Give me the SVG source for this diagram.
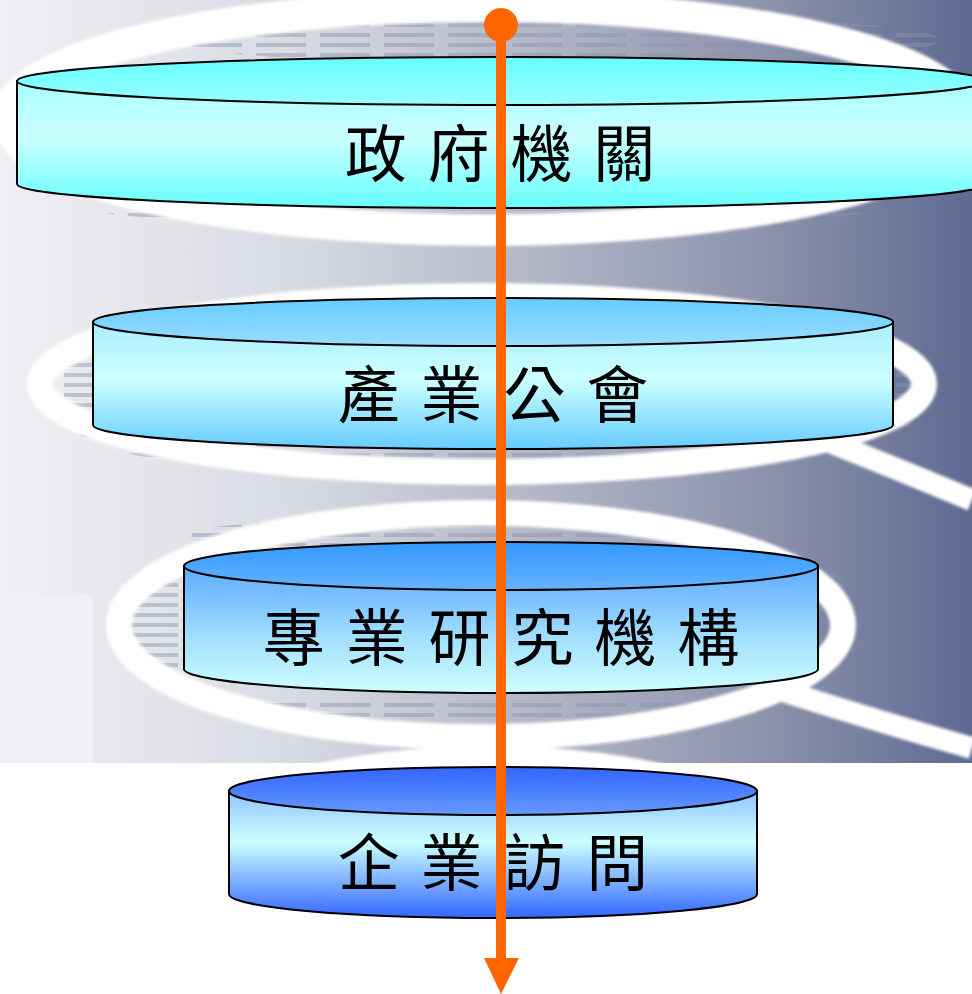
<svg xmlns="http://www.w3.org/2000/svg" width="972" height="994" viewBox="0 0 972 994">
  <style>
    .cyl-edge { stroke: #000000; stroke-width: 2; }
    .label { font-family: "Noto Sans CJK TC", "Noto Sans CJK SC", sans-serif; font-size: 62px; fill: #000000; text-anchor: middle; dominant-baseline: central; word-spacing: 7px; }
    .ring { fill: none; stroke: #FFFFFF; }
  </style>
  <defs>
    <linearGradient id="bg" x1="0" y1="0" x2="1" y2="0">
      <stop offset="0" stop-color="#EEF0F3"/>
      <stop offset="0.3" stop-color="#D8DBE2"/>
      <stop offset="0.55" stop-color="#B2B6C6"/>
      <stop offset="0.8" stop-color="#8A90AA"/>
      <stop offset="1" stop-color="#5E6A92"/>
    </linearGradient>
    <pattern id="stripes" x="0" y="0" width="64" height="10" patternUnits="userSpaceOnUse">
      <rect x="0" y="3" width="50" height="4" fill="#8C93AC"/>
    </pattern>
    <filter id="soft" x="-10%" y="-10%" width="120%" height="120%">
      <feGaussianBlur stdDeviation="1.8"/>
    </filter>
    <linearGradient id="top1" x1="0" y1="0" x2="0" y2="1">
      <stop offset="0" stop-color="#66FFFF"/>
      <stop offset="1" stop-color="#99FFFF"/>
    </linearGradient>
    <linearGradient id="body1" x1="0" y1="0" x2="0" y2="1">
      <stop offset="0" stop-color="#A8FFFF"/>
      <stop offset="0.45" stop-color="#CCFFFF"/>
      <stop offset="1" stop-color="#66FFFF"/>
    </linearGradient>
    <linearGradient id="top2" x1="0" y1="0" x2="0" y2="1">
      <stop offset="0" stop-color="#66CCFF"/>
      <stop offset="1" stop-color="#99DDFF"/>
    </linearGradient>
    <linearGradient id="body2" x1="0" y1="0" x2="0" y2="1">
      <stop offset="0" stop-color="#AAEEFF"/>
      <stop offset="0.45" stop-color="#CCFFFF"/>
      <stop offset="1" stop-color="#66CCFF"/>
    </linearGradient>
    <linearGradient id="top3" x1="0" y1="0" x2="0" y2="1">
      <stop offset="0" stop-color="#3399FF"/>
      <stop offset="1" stop-color="#66B3FF"/>
    </linearGradient>
    <linearGradient id="body3" x1="0" y1="0" x2="0" y2="1">
      <stop offset="0" stop-color="#5EAAFF"/>
      <stop offset="0.6" stop-color="#A6E2FF"/>
      <stop offset="1" stop-color="#CCFFFF"/>
    </linearGradient>
    <linearGradient id="top4" x1="0" y1="0" x2="0" y2="1">
      <stop offset="0" stop-color="#3366FF"/>
      <stop offset="1" stop-color="#6699FF"/>
    </linearGradient>
    <linearGradient id="body4" x1="0" y1="0" x2="0" y2="1">
      <stop offset="0" stop-color="#8FC4FF"/>
      <stop offset="0.4" stop-color="#CCFFFF"/>
      <stop offset="1" stop-color="#3366FF"/>
    </linearGradient>
  </defs>

  <g id="background">
    <rect x="0" y="0" width="972" height="763" fill="url(#bg)"/>
    <g opacity="0.45">
      <ellipse cx="560" cy="40" rx="380" ry="26" fill="url(#stripes)"/>
      <ellipse cx="486" cy="212" rx="380" ry="12" fill="url(#stripes)"/>
      <ellipse cx="488" cy="452" rx="360" ry="16" fill="url(#stripes)"/>
      <ellipse cx="483" cy="534" rx="300" ry="16" fill="url(#stripes)"/>
      <ellipse cx="158" cy="625" rx="30" ry="55" fill="url(#stripes)"/>
      <ellipse cx="830" cy="625" rx="20" ry="55" fill="url(#stripes)"/>
      <ellipse cx="95" cy="390" rx="35" ry="50" fill="url(#stripes)"/>
      <ellipse cx="900" cy="385" rx="22" ry="45" fill="url(#stripes)"/>
      <ellipse cx="483" cy="710" rx="280" ry="12" fill="url(#stripes)"/>
    </g>
    <g filter="url(#soft)">
      <ellipse class="ring" cx="486" cy="118" rx="478" ry="112" stroke-width="32"/>
      <ellipse class="ring" cx="482" cy="384" rx="442" ry="88" stroke-width="26"/>
      <ellipse class="ring" cx="481" cy="625" rx="362" ry="112" stroke-width="26"/>
      <ellipse class="ring" cx="490" cy="858" rx="300" ry="100" stroke-width="24"/>
      <path class="ring" d="M 830 442 Q 900 470 972 500" stroke-width="22"/>
      <path class="ring" d="M 780 690 Q 880 722 972 748" stroke-width="22"/>
    </g>
    <rect x="0" y="595" width="93" height="168" fill="#EEF0F3"/>
    <rect x="0" y="763" width="972" height="231" fill="#FFFFFF"/>
  </g>

  <g id="node-gov">
    <path class="cyl-edge" fill="url(#body1)" d="M 17 81 L 17 184 A 484 24 0 0 0 985 184 L 985 81 Z"/>
    <ellipse class="cyl-edge" fill="url(#top1)" cx="501" cy="81" rx="484" ry="24"/>
    <text class="label" x="500" y="150">政 府 機 關</text>
  </g>
  <g id="node-assoc">
    <path class="cyl-edge" fill="url(#body2)" d="M 93 322 L 93 425 A 400 24 0 0 0 893 425 L 893 322 Z"/>
    <ellipse class="cyl-edge" fill="url(#top2)" cx="493" cy="322" rx="400" ry="24"/>
    <text class="label" x="493" y="391">產 業 公 會</text>
  </g>
  <g id="node-research">
    <path class="cyl-edge" fill="url(#body3)" d="M 184 566 L 184 669 A 317 24 0 0 0 818 669 L 818 566 Z"/>
    <ellipse class="cyl-edge" fill="url(#top3)" cx="501" cy="566" rx="317" ry="24"/>
    <text class="label" x="501" y="634">專 業 研 究 機 構</text>
  </g>
  <g id="node-visit">
    <path class="cyl-edge" fill="url(#body4)" d="M 229 791 L 229 894 A 264 24 0 0 0 757 894 L 757 791 Z"/>
    <ellipse class="cyl-edge" fill="url(#top4)" cx="493" cy="791" rx="264" ry="24"/>
    <text class="label" x="493" y="859">企 業 訪 問</text>
  </g>

  <g id="connectors">
    <line x1="501" y1="25" x2="501" y2="962" stroke="#FF6600" stroke-width="10"/>
    <circle cx="501" cy="25" r="17" fill="#FF6600"/>
    <polygon points="484,958 519,958 501,994" fill="#FF6600"/>
  </g>
</svg>
